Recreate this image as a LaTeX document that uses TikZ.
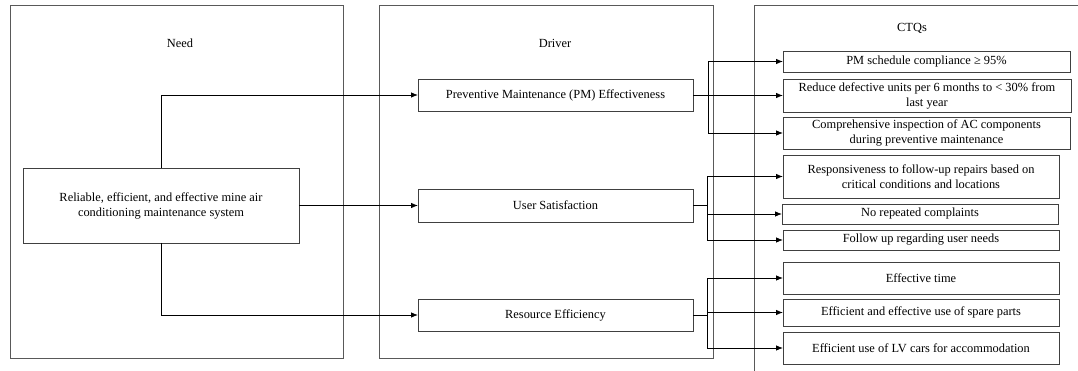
\documentclass[tikz,border=0pt]{standalone}
\usepackage{fontspec}
\setmainfont{Liberation Serif}
\usetikzlibrary{arrows.meta}
\begin{document}
\begin{tikzpicture}[x=1pt,y=-1pt,
  every node/.style={font=\fontsize{12.4}{15}\selectfont, inner sep=0pt, outer sep=0pt},
  frame/.style={draw=black!65, line width=1pt},
  box/.style={draw=black!75, line width=0.9pt, align=center},
  conn/.style={draw=black, line width=0.8pt},
  arr/.style={conn, -{Latex[length=7pt,width=5.5pt]}}]
\useasboundingbox (0,0) rectangle (1078,371);
\clip (0,0) rectangle (1078,371);
% columns
\node[frame, minimum width=333, minimum height=352] (needcol) at (176.5,182) {};
\node[frame, minimum width=334, minimum height=352] (drivercol) at (546,182) {};
\node[frame, minimum width=340, minimum height=380] (ctqcol) at (924,196) {};
\node (needtitle) at (180,43) {Need};
\node (drivertitle) at (555,43) {Driver};
\node (ctqtitle) at (912,28) {CTQs};
% need
\node[box, minimum width=276, minimum height=75] (need) at (161,205.5)
  {Reliable, efficient, and effective mine air\\conditioning maintenance system};
% drivers
\node[box, minimum width=275, minimum height=32] (pm) at (555.5,95) {Preventive Maintenance (PM) Effectiveness};
\node[box, minimum width=275, minimum height=33] (us) at (555.5,205.5) {User Satisfaction};
\node[box, minimum width=275, minimum height=32] (re) at (555.5,315) {Resource Efficiency};
% CTQs
\node[box, minimum width=287, minimum height=21] (c1) at (926.5,61.5) {PM schedule compliance ≥ 95\%};
\node[box, minimum width=288, minimum height=33] (c2) at (927,95.5) {Reduce defective units per 6 months to < 30\% from\\last year};
\node[box, minimum width=287, minimum height=32] (c3) at (926.5,133) {Comprehensive inspection of AC components\\during preventive maintenance};
\node[box, minimum width=276, minimum height=43] (c4) at (921,176.5) {Responsiveness to follow-up repairs based on\\critical conditions and locations};
\node[box, minimum width=276, minimum height=20] (c5) at (920,214) {No repeated complaints};
\node[box, minimum width=276, minimum height=20] (c6) at (921,240) {Follow up regarding user needs};
\node[box, minimum width=276, minimum height=32] (c7) at (921,278) {Effective time};
\node[box, minimum width=276, minimum height=27] (c8) at (921,312.5) {Efficient and effective use of spare parts};
\node[box, minimum width=276, minimum height=32] (c9) at (921,348) {Efficient use of LV cars for accommodation};
% need -> drivers
\draw[arr] (need.north) |- (pm.west);
\draw[arr] (need.east) -- (us.west);
\draw[arr] (need.south) |- (re.west);
% junctions
\coordinate (pmj) at (708,95);
\coordinate (usj) at (707,205.5);
\coordinate (rej) at (707,315);
\draw[conn] (pm.east) -- (pmj);
\draw[conn] (us.east) -- (usj);
\draw[conn] (re.east) -- (rej);
\draw[arr] (pmj) |- (c1.west);
\draw[arr] (pmj) |- (c2.west);
\draw[arr] (pmj) |- (c3.west);
\draw[arr] (usj) |- (c4.west);
\draw[arr] (usj) |- (c5.west);
\draw[arr] (usj) |- (c6.west);
\draw[arr] (rej) |- (c7.west);
\draw[arr] (rej) |- (c8.west);
\draw[arr] (rej) |- (c9.west);
\end{tikzpicture}
\end{document}
